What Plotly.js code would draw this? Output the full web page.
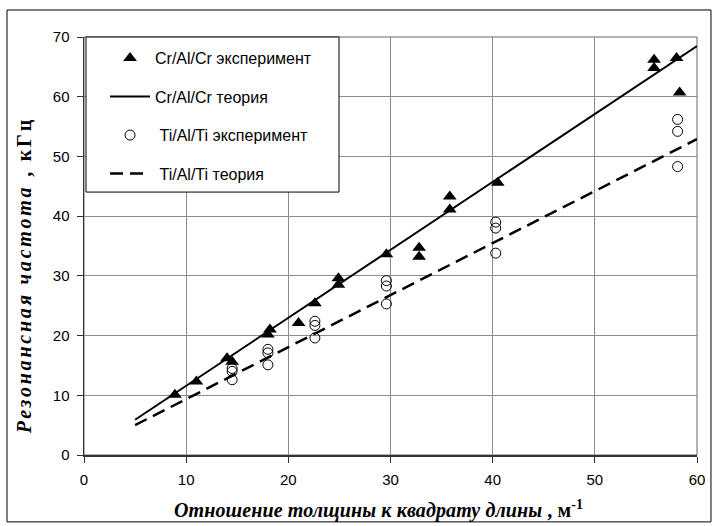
<!DOCTYPE html>
<html>
<head>
<meta charset="utf-8">
<script src="https://cdn.plot.ly/plotly-3.0.1.min.js"></script>
<style>
html,body{margin:0;padding:0;background:#fff;}
#chart{width:713px;height:526px;}
#chart g.annotation[data-index="0"] text{letter-spacing:2.8px;}
#chart g.annotation[data-index="1"] text{letter-spacing:0.1px;}
</style>
</head>
<body>
<div id="chart"></div>
<script>
// Cr/Al/Cr experiment
const crX = [8.9, 11.0, 14.0, 14.5, 18.0, 18.2, 21.0, 22.6, 24.9, 24.9, 29.6, 32.8, 32.8, 35.8, 35.8, 40.5, 55.8, 55.8, 58.0, 58.3];
const crY = [10.1, 12.3, 16.2, 15.6, 20.2, 21.0, 22.1, 25.4, 29.6, 28.5, 33.6, 34.7, 33.2, 43.3, 41.1, 45.6, 66.2, 64.8, 66.5, 60.7];
// Ti/Al/Ti experiment
const tiX = [14.5, 14.5, 14.5, 18.0, 18.0, 18.0, 22.6, 22.6, 22.6, 29.6, 29.6, 29.6, 40.3, 40.3, 40.3, 58.1, 58.1, 58.1];
const tiY = [14.5, 14.0, 12.6, 17.7, 17.1, 15.1, 22.4, 21.7, 19.6, 29.2, 28.3, 25.3, 39.0, 38.0, 33.8, 56.2, 54.2, 48.3];
// Theory lines
const crTheoryX = [5, 60];
const crTheoryY = [5.9, 68.5];
const tiTheoryX = [5, 60];
const tiTheoryY = [5.0, 52.9];
// Labels
const seriesNames = ["Cr/Al/Cr эксперимент", "Cr/Al/Cr теория", "\u00a0Ti/Al/Ti эксперимент", "\u00a0Ti/Al/Ti теория"];
const xTitle = "<b><i>Отношение толщины к квадрату длины</i> , м<sup>-1</sup></b>";
const yTitle = "<b><i>Резонансная частота</i> , кГц</b>";

const traces = [
  {x: crX, y: crY, name: seriesNames[0], mode: "markers", type: "scatter", legendgroup: "a",
   marker: {symbol: "triangle-up", size: 12, color: "#000"}},
  {x: crTheoryX, y: crTheoryY, name: seriesNames[1], mode: "lines", type: "scatter", legendgroup: "b",
   line: {color: "#000", width: 2}},
  {x: tiX, y: tiY, name: seriesNames[2], mode: "markers", type: "scatter", legendgroup: "c",
   marker: {symbol: "circle-open", size: 10, color: "#000", line: {width: 1}}},
  {x: tiTheoryX, y: tiTheoryY, name: seriesNames[3], mode: "lines", type: "scatter", legendgroup: "d",
   line: {color: "#000", width: 2.5, dash: "13px,7px"}}
];

const layout = {
  width: 713, height: 526,
  margin: {l: 84, r: 16, t: 37, b: 71},
  paper_bgcolor: "#fff", plot_bgcolor: "#fff",
  font: {family: "Liberation Sans, Arial, sans-serif", size: 15, color: "#000"},
  showlegend: true,
  legend: {x: 0.0343, y: 0.990, xanchor: "left", yanchor: "top", bgcolor: "rgba(0,0,0,0)",
           borderwidth: 0, tracegroupgap: 14.7, itemwidth: 40,
           font: {family: "Liberation Sans, Arial, sans-serif", size: 16}},
  xaxis: {range: [0, 60], dtick: 10, tick0: 0, showgrid: true, gridcolor: "#8c8c8c", gridwidth: 1,
          zeroline: false, showline: true, linecolor: "#333", linewidth: 2,
          ticks: "outside", ticklen: 6, tickcolor: "#333", ticklabelstandoff: 4},
  yaxis: {range: [0, 70], dtick: 10, tick0: 0, showgrid: true, gridcolor: "#8c8c8c", gridwidth: 1,
          zeroline: false, showline: true, linecolor: "#333", linewidth: 1.5,
          ticks: "outside", ticklen: 6, tickcolor: "#333", ticklabelstandoff: 4},
  annotations: [
    {text: yTitle, xref: "paper", yref: "paper", x: -0.0976, y: 0.4306, xanchor: "center", yanchor: "middle",
     textangle: -90, showarrow: false, font: {family: "Liberation Serif, Times New Roman, serif", size: 20}},
    {text: xTitle, xref: "paper", yref: "paper", x: 0.4812, y: -0.1292, xanchor: "center", yanchor: "middle",
     showarrow: false, font: {family: "Liberation Serif, Times New Roman, serif", size: 20}}
  ],
  shapes: [
    {type: "rect", xref: "paper", yref: "paper", x0: 0, x1: 1, y0: 0, y1: 1,
     line: {color: "#666", width: 1}, layer: "below"},
    {type: "rect", xref: "paper", yref: "paper", x0: 0.0033, x1: 0.416, y0: 0.629, y1: 1,
     line: {color: "#000", width: 1}, fillcolor: "#fff", layer: "above"},
    {type: "rect", xref: "paper", yref: "paper", x0: -0.1256, x1: 1.0228, y0: -0.160, y1: 1.0646,
     line: {color: "#000", width: 1}}
  ]
};

Plotly.newPlot("chart", traces, layout, {displayModeBar: false, staticPlot: true});
</script>
</body>
</html>
